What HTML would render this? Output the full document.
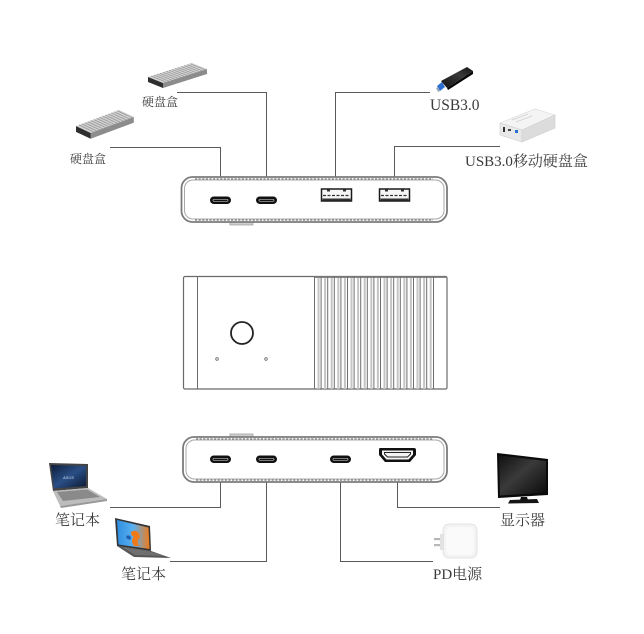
<!DOCTYPE html>
<html>
<head>
<meta charset="utf-8">
<style>
  html, body { margin:0; padding:0; background:#fff; }
  body { width:644px; height:634px; overflow:hidden; }
  svg { display:block; }
  .lbl { font-family:"Liberation Serif","Noto Serif CJK SC",serif; fill:#3a3a3a; }
</style>
</head>
<body>
<svg width="644" height="634" viewBox="0 0 644 634" xmlns="http://www.w3.org/2000/svg">
  <defs>
    <linearGradient id="scr1" x1="0" y1="0" x2="1" y2="1">
      <stop offset="0" stop-color="#0d1d3a"/>
      <stop offset="0.5" stop-color="#2a4f86"/>
      <stop offset="1" stop-color="#0b1730"/>
    </linearGradient>
    <linearGradient id="scr2" x1="0" y1="0" x2="1" y2="0">
      <stop offset="0" stop-color="#2f8fe0"/>
      <stop offset="0.5" stop-color="#5ab0f0"/>
      <stop offset="1" stop-color="#f07a18"/>
    </linearGradient>
    <linearGradient id="mon" x1="0" y1="0" x2="1" y2="1">
      <stop offset="0" stop-color="#111"/>
      <stop offset="0.45" stop-color="#3a3a3a"/>
      <stop offset="1" stop-color="#0a0a0a"/>
    </linearGradient>
    <linearGradient id="stick" x1="0" y1="1" x2="1" y2="0">
      <stop offset="0" stop-color="#111"/>
      <stop offset="0.6" stop-color="#3a3a3a"/>
      <stop offset="1" stop-color="#111"/>
    </linearGradient>
    <g id="drive">
      <polygon points="0,14 44,0 59,6 15,20" fill="#d2d2d2"/>
      <g stroke="#9c9c9c" stroke-width="0.8">
        <line x1="3" y1="13" x2="18" y2="19"/><line x1="6" y1="12.1" x2="21" y2="18.1"/>
        <line x1="9" y1="11.1" x2="24" y2="17.1"/><line x1="12" y1="10.2" x2="27" y2="16.2"/>
        <line x1="15" y1="9.2" x2="30" y2="15.2"/><line x1="18" y1="8.3" x2="33" y2="14.3"/>
        <line x1="21" y1="7.3" x2="36" y2="13.3"/><line x1="24" y1="6.4" x2="39" y2="12.4"/>
        <line x1="27" y1="5.4" x2="42" y2="11.4"/><line x1="30" y1="4.5" x2="45" y2="10.5"/>
        <line x1="33" y1="3.5" x2="48" y2="9.5"/><line x1="36" y1="2.5" x2="51" y2="8.5"/>
        <line x1="39" y1="1.6" x2="54" y2="7.6"/><line x1="42" y1="0.6" x2="57" y2="6.6"/>
      </g>
      <polygon points="15,20 59,6 59,11 15,25" fill="#8c8c8c"/>
      <polygon points="0,14 15,20 15,25 0,19" fill="#2e2e2e"/>
    </g>
  </defs>

  <!-- ============ connector lines ============ -->
  <g stroke="#5a5a5a" stroke-width="1" fill="none">
    <polyline points="177,92.5 266.5,92.5 266.5,197"/>
    <polyline points="110,147.5 220.5,147.5 220.5,197"/>
    <polyline points="430,92.5 335.5,92.5 335.5,190"/>
    <polyline points="500,146.5 394.5,146.5 394.5,190"/>
    <polyline points="220.5,462 220.5,507.5 110,507.5"/>
    <polyline points="266.5,462 266.5,561.5 170,561.5"/>
    <polyline points="340.5,462 340.5,561.5 433,561.5"/>
    <polyline points="397.5,462 397.5,507.5 500,507.5"/>
  </g>

  <!-- ============ hard drive enclosures ============ -->
  <use href="#drive" transform="translate(148,63)"/>
  <use href="#drive" transform="translate(76,110) scale(0.98,1.15)"/>

  <!-- USB stick -->
  <polygon points="441,81 467,67 473,71 447,88" fill="url(#stick)"/>
  <polygon points="447,88 473,71 473,74 448,90" fill="#050505"/>
  <polygon points="437,86 442,82 445,87 440,91" fill="#2a6fd0"/>
  <polygon points="436,88 438,87 440,91 438,92" fill="#9ab"/>

  <!-- external HDD -->
  <polygon points="500,123 535,109 555,115 522,130" fill="#f4f4f4" stroke="#d8d8d8" stroke-width="0.6"/>
  <polygon points="500,123 522,130 522,142 500,135" fill="#e8e8e8" stroke="#cfcfcf" stroke-width="0.6"/>
  <polygon points="522,130 555,115 555,128 522,142" fill="#dcdcdc" stroke="#cfcfcf" stroke-width="0.6"/>
  <rect x="503" y="127" width="2" height="5" fill="#333"/>
  <rect x="508" y="129" width="3" height="2" fill="#444"/>
  <rect x="515" y="130" width="3" height="3" fill="#2a6fd0"/>
  <path d="M512,120 L528,114 M516,122 L532,116" stroke="#cfcfcf" stroke-width="0.7"/>

  <!-- ============ top device ============ -->
  <rect x="230" y="221" width="23" height="4" fill="#cfcfcf" stroke="#9a9a9a" stroke-width="0.7"/>
  <rect x="181.5" y="177" width="265.5" height="45" rx="11" fill="#fff" stroke="#7b7b7b" stroke-width="1.8"/>
  <rect x="184.5" y="180" width="259.5" height="39" rx="8.5" fill="none" stroke="#a8a8a8" stroke-width="1"/>
  <line x1="195" y1="179" x2="433" y2="179" stroke="#8a8a8a" stroke-width="1.4" stroke-dasharray="2.2,1.4"/>
  <line x1="195" y1="220" x2="433" y2="220" stroke="#8a8a8a" stroke-width="1.4" stroke-dasharray="2.2,1.4"/>
  <!-- USB-C ports -->
  <rect x="210" y="196.5" width="21" height="7.5" rx="3.7" fill="#111"/>
  <rect x="213" y="199.3" width="15" height="2" rx="1" fill="none" stroke="#bbb" stroke-width="0.7"/>
  <rect x="256" y="196.5" width="21" height="7.5" rx="3.7" fill="#111"/>
  <rect x="259" y="199.3" width="15" height="2" rx="1" fill="none" stroke="#bbb" stroke-width="0.7"/>
  <!-- USB-A ports -->
  <g>
    <rect x="321.5" y="189" width="30" height="12" fill="#f6f6f6" stroke="#1a1a1a" stroke-width="1.5"/>
    <rect x="327" y="189.5" width="3" height="2" fill="#333"/>
    <rect x="343" y="189.5" width="3" height="2" fill="#333"/>
    <line x1="323" y1="195.5" x2="350" y2="195.5" stroke="#333" stroke-width="1.2" stroke-dasharray="3,1.5"/>
    <rect x="322.5" y="198.5" width="28" height="2" fill="#333"/>
  </g>
  <g>
    <rect x="379.5" y="189" width="30" height="12" fill="#f6f6f6" stroke="#1a1a1a" stroke-width="1.5"/>
    <rect x="385" y="189.5" width="3" height="2" fill="#333"/>
    <rect x="401" y="189.5" width="3" height="2" fill="#333"/>
    <line x1="381" y1="195.5" x2="408" y2="195.5" stroke="#333" stroke-width="1.2" stroke-dasharray="3,1.5"/>
    <rect x="380.5" y="198.5" width="28" height="2" fill="#333"/>
  </g>

  <!-- ============ middle device ============ -->
  <rect x="183.5" y="276.5" width="263.5" height="112.5" rx="1.5" fill="#fff" stroke="#6a6a6a" stroke-width="1.2"/>
  <line x1="197.5" y1="277" x2="197.5" y2="389" stroke="#6a6a6a" stroke-width="1"/>
  <line x1="314" y1="277" x2="447" y2="277" stroke="#777" stroke-width="1.8"/>
  <g stroke-width="1">
    <g stroke="#c4c4c4" stroke-width="2">
      <line x1="318.5" y1="278" x2="318.5" y2="389"/><line x1="325.1" y1="278" x2="325.1" y2="389"/>
      <line x1="331.7" y1="278" x2="331.7" y2="389"/><line x1="338.3" y1="278" x2="338.3" y2="389"/>
      <line x1="344.9" y1="278" x2="344.9" y2="389"/><line x1="351.5" y1="278" x2="351.5" y2="389"/>
      <line x1="358.1" y1="278" x2="358.1" y2="389"/><line x1="364.7" y1="278" x2="364.7" y2="389"/>
      <line x1="371.3" y1="278" x2="371.3" y2="389"/><line x1="377.9" y1="278" x2="377.9" y2="389"/>
      <line x1="384.5" y1="278" x2="384.5" y2="389"/><line x1="391.1" y1="278" x2="391.1" y2="389"/>
      <line x1="397.7" y1="278" x2="397.7" y2="389"/><line x1="404.3" y1="278" x2="404.3" y2="389"/>
      <line x1="410.9" y1="278" x2="410.9" y2="389"/><line x1="417.5" y1="278" x2="417.5" y2="389"/>
      <line x1="424.1" y1="278" x2="424.1" y2="389"/><line x1="430.7" y1="278" x2="430.7" y2="389"/>
    </g>
    <g stroke="#6e6e6e">
      <line x1="314.5" y1="277" x2="314.5" y2="389"/><line x1="321.1" y1="277" x2="321.1" y2="389"/>
      <line x1="327.7" y1="277" x2="327.7" y2="389"/><line x1="334.3" y1="277" x2="334.3" y2="389"/>
      <line x1="340.9" y1="277" x2="340.9" y2="389"/><line x1="347.5" y1="277" x2="347.5" y2="389"/>
      <line x1="354.1" y1="277" x2="354.1" y2="389"/><line x1="360.7" y1="277" x2="360.7" y2="389"/>
      <line x1="367.3" y1="277" x2="367.3" y2="389"/><line x1="373.9" y1="277" x2="373.9" y2="389"/>
      <line x1="380.5" y1="277" x2="380.5" y2="389"/><line x1="387.1" y1="277" x2="387.1" y2="389"/>
      <line x1="393.7" y1="277" x2="393.7" y2="389"/><line x1="400.3" y1="277" x2="400.3" y2="389"/>
      <line x1="406.9" y1="277" x2="406.9" y2="389"/><line x1="413.5" y1="277" x2="413.5" y2="389"/>
      <line x1="420.1" y1="277" x2="420.1" y2="389"/><line x1="426.7" y1="277" x2="426.7" y2="389"/>
      <line x1="433.5" y1="277" x2="433.5" y2="389"/>
    </g>
  </g>
  <circle cx="242" cy="333" r="11" fill="none" stroke="#222" stroke-width="1.8"/>
  <circle cx="217" cy="359" r="1.3" fill="none" stroke="#666" stroke-width="0.8"/>
  <circle cx="266" cy="359" r="1.3" fill="none" stroke="#666" stroke-width="0.8"/>

  <!-- ============ bottom device ============ -->
  <rect x="230" y="434" width="23" height="4" fill="#cfcfcf" stroke="#9a9a9a" stroke-width="0.7"/>
  <rect x="183" y="437" width="264" height="45" rx="11" fill="#fff" stroke="#7b7b7b" stroke-width="1.8"/>
  <rect x="186" y="440" width="258" height="39" rx="8.5" fill="none" stroke="#a8a8a8" stroke-width="1"/>
  <line x1="196" y1="439" x2="433" y2="439" stroke="#8a8a8a" stroke-width="1.4" stroke-dasharray="2.2,1.4"/>
  <line x1="196" y1="480" x2="433" y2="480" stroke="#8a8a8a" stroke-width="1.4" stroke-dasharray="2.2,1.4"/>
  <rect x="210" y="455.5" width="21" height="7.5" rx="3.7" fill="#111"/>
  <rect x="213" y="458.3" width="15" height="2" rx="1" fill="none" stroke="#bbb" stroke-width="0.7"/>
  <rect x="256" y="455.5" width="21" height="7.5" rx="3.7" fill="#111"/>
  <rect x="259" y="458.3" width="15" height="2" rx="1" fill="none" stroke="#bbb" stroke-width="0.7"/>
  <rect x="330" y="455.5" width="21" height="7.5" rx="3.7" fill="#111"/>
  <rect x="333" y="458.3" width="15" height="2" rx="1" fill="none" stroke="#bbb" stroke-width="0.7"/>
  <!-- HDMI -->
  <path d="M380,448 L414,448 Q416,448 416,450 L416,455 L410,462 L385,462 L379,455 L379,450 Q379,448 380,448 Z" fill="#111"/>
  <path d="M382,450.5 L413,450.5 L413,454.5 L408.5,459.5 L386.5,459.5 L382,454.5 Z" fill="#f4f4f4"/>
  <path d="M384.5,452.5 L410.5,452.5 L410.5,454 L407.5,457 L387.5,457 L384.5,454 Z" fill="none" stroke="#222" stroke-width="1"/>

  <!-- laptop 1 -->
  <polygon points="49,463 88,464 88,488 53,491" fill="#444"/>
  <polygon points="51,465 86,466 86,486 54,488.5" fill="url(#scr1)"/>
  <text x="63" y="479" font-family="Liberation Sans,sans-serif" font-size="4" fill="#cde" font-style="italic">ASUS</text>
  <polygon points="53,491 88,488 107,499 60,506" fill="#bdbdbd"/>
  <polygon points="57,492 87,489.5 100,497 63,501" fill="#8a8a8a"/>
  <polygon points="60,506 107,499 107,501 61,508" fill="#999"/>

  <!-- laptop 2 -->
  <polygon points="115,518 150,526 151,551 117,546" fill="#333"/>
  <polygon points="117,520 148.5,527.5 149.5,549 118.5,544.5" fill="url(#scr2)"/>
  <path d="M131,532 Q138,528 140,537 Q136,541 139,546 L134,546 Q130,540 134,537 Q131,536 131,532 Z" fill="#f07a18"/>
  <path d="M126,536 Q131,534 131,539 Q127,541 126,536 Z" fill="#1f5fb0"/>
  <polygon points="117,546 151,551 171,558 134,557" fill="#555"/>
  <polygon points="122,547 150,551.5 164,556 135,555" fill="#6f6f6f"/>

  <!-- monitor -->
  <polygon points="497,453 548,459 548,495 498,498" fill="#0b0b0b"/>
  <polygon points="499,455.5 546,461 546,492.5 500,495.5" fill="url(#mon)"/>
  <polygon points="521,497 527,497 528,500 520,500" fill="#111"/>
  <polygon points="510,500 537,499 539,503 508,503.5" fill="#151515"/>

  <!-- charger -->
  <rect x="443" y="524" width="34" height="34" rx="6" fill="#f3f3f3" stroke="#dedede" stroke-width="0.8"/>
  <rect x="446" y="527" width="28" height="28" rx="5" fill="#fafafa"/>
  <rect x="434" y="538" width="10" height="2.2" fill="#b8b8b8"/>
  <rect x="434" y="544" width="10" height="2.2" fill="#b8b8b8"/>
  <rect x="440" y="534" width="4" height="16" fill="#e2e2e2"/>

  <!-- ============ labels ============ -->
  <text class="lbl" x="142" y="106" font-size="12">硬盘盒</text>
  <text class="lbl" x="70" y="163" font-size="12">硬盘盒</text>
  <text class="lbl" x="430" y="110" font-size="15.5">USB3.0</text>
  <text class="lbl" x="465" y="166" font-size="15">USB3.0移动硬盘盒</text>
  <text class="lbl" x="55" y="525" font-size="15">笔记本</text>
  <text class="lbl" x="121" y="579" font-size="15">笔记本</text>
  <text class="lbl" x="500" y="525" font-size="15">显示器</text>
  <text class="lbl" x="433" y="579" font-size="15">PD电源</text>
</svg>
</body>
</html>
